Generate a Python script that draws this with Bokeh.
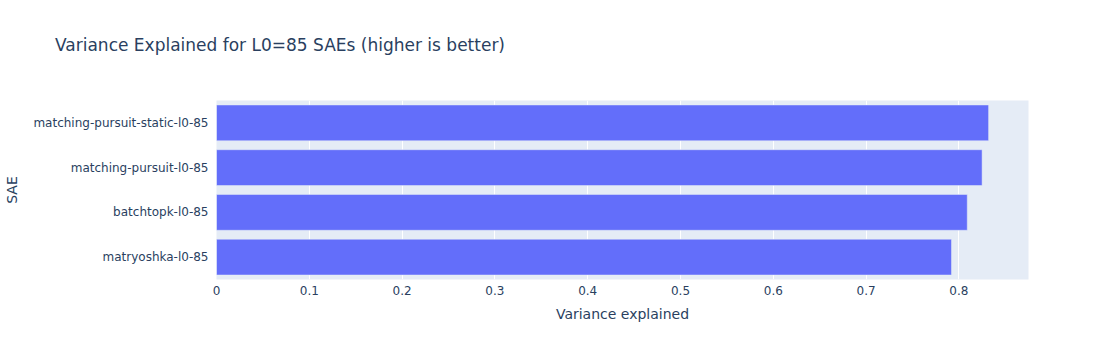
from bokeh.plotting import figure
from bokeh.models import FactorRange, Range1d, FixedTicker, NumeralTickFormatter, Div
from bokeh.layouts import column
from bokeh.embed import file_html
from bokeh.resources import INLINE

saes = ["matryoshka-l0-85", "batchtopk-l0-85", "matching-pursuit-l0-85", "matching-pursuit-static-l0-85"]
variance = [0.792, 0.809, 0.825, 0.832]
x_ticks = [0, 0.1, 0.2, 0.3, 0.4, 0.5, 0.6, 0.7, 0.8]
title_text = "Variance Explained for L0=85 SAEs (higher is better)"

FONT = "DejaVu Sans"
TXT = "#2a3f5f"

p = figure(width=1100, height=297, output_backend="svg", toolbar_location=None,
           y_range=FactorRange(*saes, range_padding=0), x_range=Range1d(0, 0.875),
           min_border_left=216, min_border_right=72, min_border_top=45, min_border_bottom=73)
p.title = None
p.hbar(y=saes, right=variance, left=0, height=0.8, fill_color="#636efa",
       line_color="#e5ecf6", line_width=0.5)

title_div = Div(text=title_text, width=1000, height=20, margin=(35, 0, 0, 55),
                styles={"font-family": FONT, "font-size": "17px", "color": TXT,
                        "line-height": "20px", "white-space": "nowrap"})

p.background_fill_color = "#e5ecf6"
p.border_fill_color = "white"
p.outline_line_color = None
p.ygrid.grid_line_color = None
p.xgrid.grid_line_color = "white"
p.xgrid.grid_line_width = 1

p.xaxis.ticker = FixedTicker(ticks=x_ticks)
p.xaxis.formatter = NumeralTickFormatter(format="0.[0]")
for ax in (p.xaxis, p.yaxis):
    ax.axis_line_color = None
    ax.major_tick_line_color = None
    ax.minor_tick_line_color = None
    ax.major_label_text_font = FONT
    ax.major_label_text_font_size = "12px"
    ax.major_label_text_color = TXT
    ax.axis_label_text_font = FONT
    ax.axis_label_text_font_size = "14px"
    ax.axis_label_text_color = TXT
    ax.axis_label_text_font_style = "normal"
p.xaxis.axis_label = "Variance explained"
p.yaxis.axis_label = "SAE"
p.xaxis.major_label_standoff = 0
p.xaxis.axis_label_standoff = 8
p.yaxis.major_label_standoff = 2
p.yaxis.axis_label_standoff = 10

layout = column(title_div, p, spacing=0)
open("out.html", "w").write(file_html(layout, INLINE))
